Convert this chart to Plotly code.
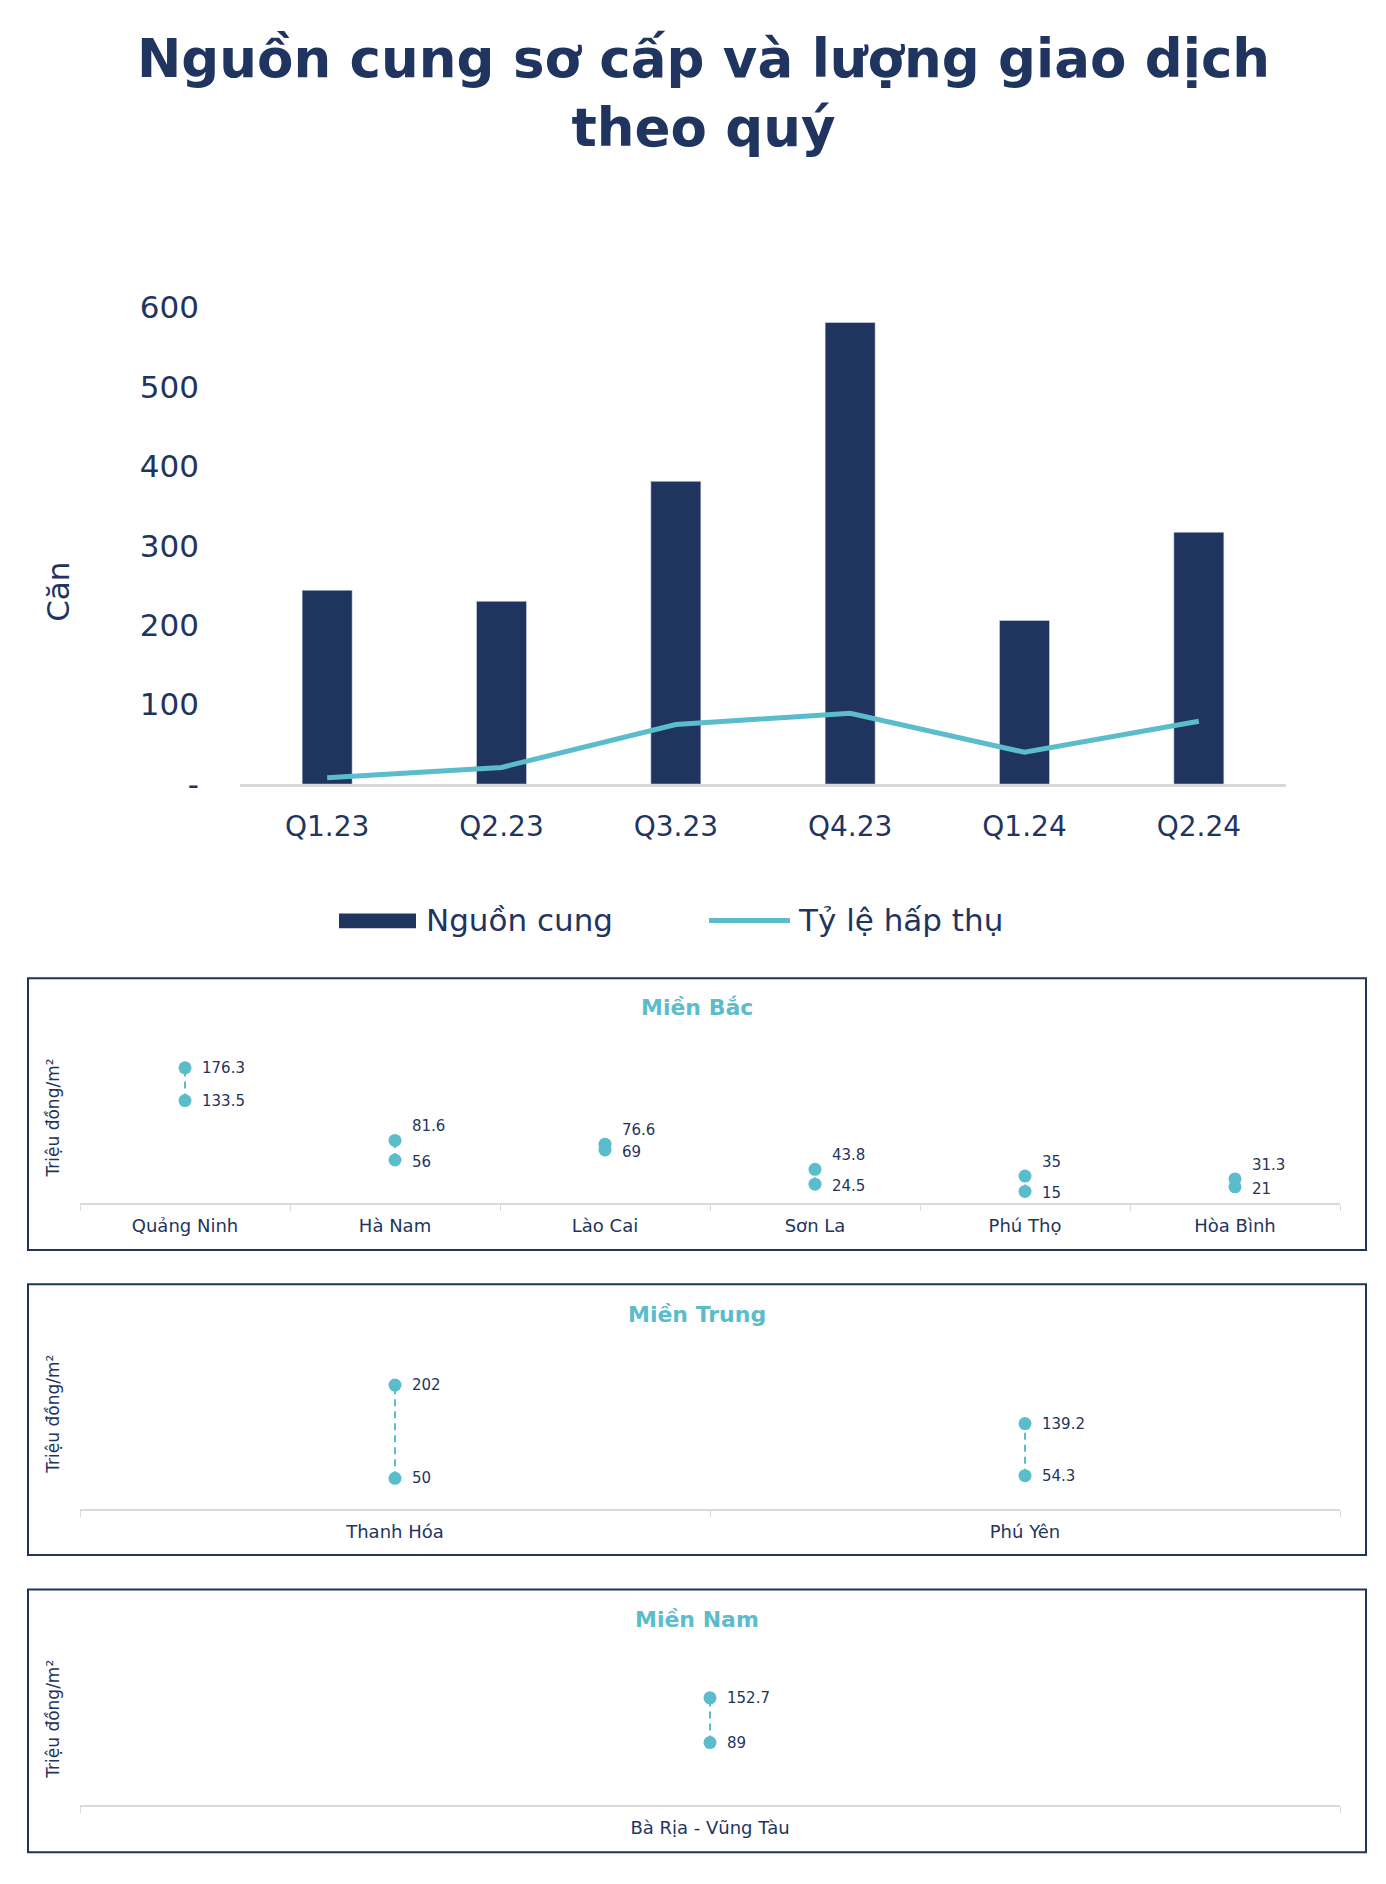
import plotly.graph_objects as go

# ---------------- data ----------------
quarters = ["Q1.23", "Q2.23", "Q3.23", "Q4.23", "Q1.24", "Q2.24"]
supply = [244, 230, 381, 581, 206, 317]          # Nguồn cung (căn)
absorption = [8, 21, 75, 89, 40, 79]             # Tỷ lệ hấp thụ
y_tickvals = [0, 100, 200, 300, 400, 500, 600]
y_ticktext = ["-", "100", "200", "300", "400", "500", "600"]

bac_regions = ["Quảng Ninh", "Hà Nam", "Lào Cai", "Sơn La", "Phú Thọ", "Hòa Bình"]
bac_high = [176.3, 81.6, 76.6, 43.8, 35, 31.3]
bac_low = [133.5, 56, 69, 24.5, 15, 21]

trung_regions = ["Thanh Hóa", "Phú Yên"]
trung_high = [202, 139.2]
trung_low = [50, 54.3]

nam_regions = ["Bà Rịa - Vũng Tàu"]
nam_high = [152.7]
nam_low = [89]

# ---------------- style ----------------
W, H = 1386, 1884
NAVY = "#1F3560"
TEAL = "#5BBCCC"
GRAY = "#D9D9D9"
FONT = "DejaVu Sans"


def fx(v):
    return v / W


def fy(v):
    return 1 - v / H


fig = go.Figure()

# ---------------- main chart ----------------
fig.add_trace(go.Bar(x=quarters, y=supply, name="Nguồn cung", marker=dict(color=NAVY),
                     xaxis="x", yaxis="y", showlegend=False))
fig.add_trace(go.Scatter(x=quarters, y=absorption, name="Tỷ lệ hấp thụ", mode="lines",
                         line=dict(color=TEAL, width=5), xaxis="x", yaxis="y", showlegend=False))

annotations = []
shapes = []

# title
annotations.append(dict(text="<b>Nguồn cung sơ cấp và lượng giao dịch<br>theo quý</b>",
                        x=fx(703), y=fy(76), xref="paper", yref="paper", showarrow=False,
                        xanchor="center", yanchor="middle",
                        font=dict(family=FONT, size=53, color=NAVY)))

# y title "Căn"
annotations.append(dict(text="Căn", x=fx(58), y=fy(585), xref="paper", yref="paper",
                        xanchor="center", yanchor="middle",
                        showarrow=False, textangle=-90, font=dict(family=FONT, size=31, color=NAVY)))

# custom legend
shapes.append(dict(type="rect", xref="paper", yref="paper", x0=fx(339), x1=fx(416),
                   y0=fy(928), y1=fy(913), fillcolor=NAVY, line=dict(width=0)))
annotations.append(dict(text="Nguồn cung", x=fx(424), y=fy(920), xref="paper", yref="paper",
                        xanchor="left", yanchor="middle", showarrow=False,
                        font=dict(family=FONT, size=31, color=NAVY)))
shapes.append(dict(type="line", xref="paper", yref="paper", x0=fx(709), x1=fx(790),
                   y0=fy(920), y1=fy(920), line=dict(color=TEAL, width=5)))
annotations.append(dict(text="Tỷ lệ hấp thụ", x=fx(796), y=fy(920), xref="paper", yref="paper",
                        xanchor="left", yanchor="middle", showarrow=False,
                        font=dict(family=FONT, size=31, color=NAVY)))

# ---------------- dumbbell panels ----------------
panels = [
    dict(name="Miền Bắc", regions=bac_regions, high=bac_high, low=bac_low,
         box=(979, 1256), title_y=1009, axis_y=1208, top_y=1040, ymax=215, ytitle_y=1122, ax="2"),
    dict(name="Miền Trung", regions=trung_regions, high=trung_high, low=trung_low,
         box=(1291, 1567), title_y=1322, axis_y=1520, top_y=1350, ymax=272, ytitle_y=1424, ax="3"),
    dict(name="Miền Nam", regions=nam_regions, high=nam_high, low=nam_low,
         box=(1602, 1870), title_y=1633, axis_y=1822, top_y=1660, ymax=226, ytitle_y=1735, ax="4"),
]

layout_axes = {}
for p in panels:
    xa, ya = "x" + p["ax"], "y" + p["ax"]
    regions, high, low = p["regions"], p["high"], p["low"]
    xs, ys = [], []
    for r, h, l in zip(regions, high, low):
        xs += [r, r, None]
        ys += [l, h, None]
    fig.add_trace(go.Scatter(x=xs, y=ys, mode="lines", line=dict(color=TEAL, width=2, dash="7px,5px"),
                             xaxis=xa, yaxis=ya, showlegend=False, hoverinfo="skip"))
    fig.add_trace(go.Scatter(x=regions + regions, y=high + low, mode="markers",
                             marker=dict(color=TEAL, size=13), xaxis=xa, yaxis=ya, showlegend=False))

    px_per_unit = (p["axis_y"] - p["top_y"]) / p["ymax"]
    for r, h, l in zip(regions, high, low):
        gap = (h - l) * px_per_unit
        close = gap < 30
        annotations.append(dict(text=f"{h:g}", x=r, y=h, xref=xa, yref=ya, showarrow=False,
                                xanchor="left", yanchor="middle", xshift=15,
                                yshift=14 if close else 0,
                                font=dict(family=FONT, size=15, color=NAVY)))
        annotations.append(dict(text=f"{l:g}", x=r, y=l, xref=xa, yref=ya, showarrow=False,
                                xanchor="left", yanchor="middle", xshift=15,
                                yshift=-2 if close else 0,
                                font=dict(family=FONT, size=15, color=NAVY)))

    layout_axes["xaxis" + p["ax"]] = dict(
        domain=[fx(80), fx(1340)], anchor=ya, type="category",
        range=[-0.5, len(regions) - 0.5], showline=True, linecolor=GRAY, linewidth=2,
        showgrid=False, zeroline=False, ticks="outside", tickson="boundaries",
        ticklen=6, tickcolor=GRAY, tickwidth=1, ticklabelstandoff=5,
        tickfont=dict(family=FONT, size=18, color=NAVY))
    layout_axes["yaxis" + p["ax"]] = dict(
        domain=[fy(p["axis_y"]), fy(p["top_y"])], anchor=xa, range=[0, p["ymax"]],
        visible=False, showgrid=False, zeroline=False)

    b0, b1 = p["box"]
    shapes.append(dict(type="rect", xref="paper", yref="paper", x0=fx(28), x1=fx(1366),
                       y0=fy(b1), y1=fy(b0), line=dict(color=NAVY, width=2), fillcolor="rgba(0,0,0,0)"))
    annotations.append(dict(text=f"<b>{p['name']}</b>", x=fx(697), y=fy(p["title_y"]),
                            xref="paper", yref="paper", showarrow=False,
                            xanchor="center", yanchor="middle",
                            font=dict(family=FONT, size=22, color=TEAL)))
    annotations.append(dict(text="Triệu đồng/m²", x=fx(53), y=fy(p["ytitle_y"]),
                            xref="paper", yref="paper", showarrow=False, textangle=-90,
                            xanchor="center", yanchor="middle",
                            font=dict(family=FONT, size=17, color=NAVY)))

fig.update_layout(
    width=W, height=H,
    margin=dict(l=0, r=0, t=0, b=0),
    paper_bgcolor="white", plot_bgcolor="white",
    font=dict(family=FONT, color=NAVY),
    bargap=0.713,
    xaxis=dict(domain=[fx(240), fx(1286)], anchor="y", range=[-0.5, 5.5],
               showline=True, linecolor=GRAY, linewidth=3, showgrid=False, zeroline=False,
               ticks="", ticklabelstandoff=15,
               tickfont=dict(family=FONT, size=28, color=NAVY)),
    yaxis=dict(domain=[fy(781), fy(295)], anchor="x", range=[0, 600],
               tickvals=y_tickvals, ticktext=y_ticktext, showgrid=False, zeroline=False,
               showline=False, ticks="", ticklabelstandoff=40,
               tickfont=dict(family=FONT, size=31, color=NAVY)),
    annotations=annotations,
    shapes=shapes,
    **layout_axes,
)

fig.write_html("out.html", config={"displayModeBar": False},
               post_script="document.body.style.margin='0';document.body.style.overflow='hidden';")
